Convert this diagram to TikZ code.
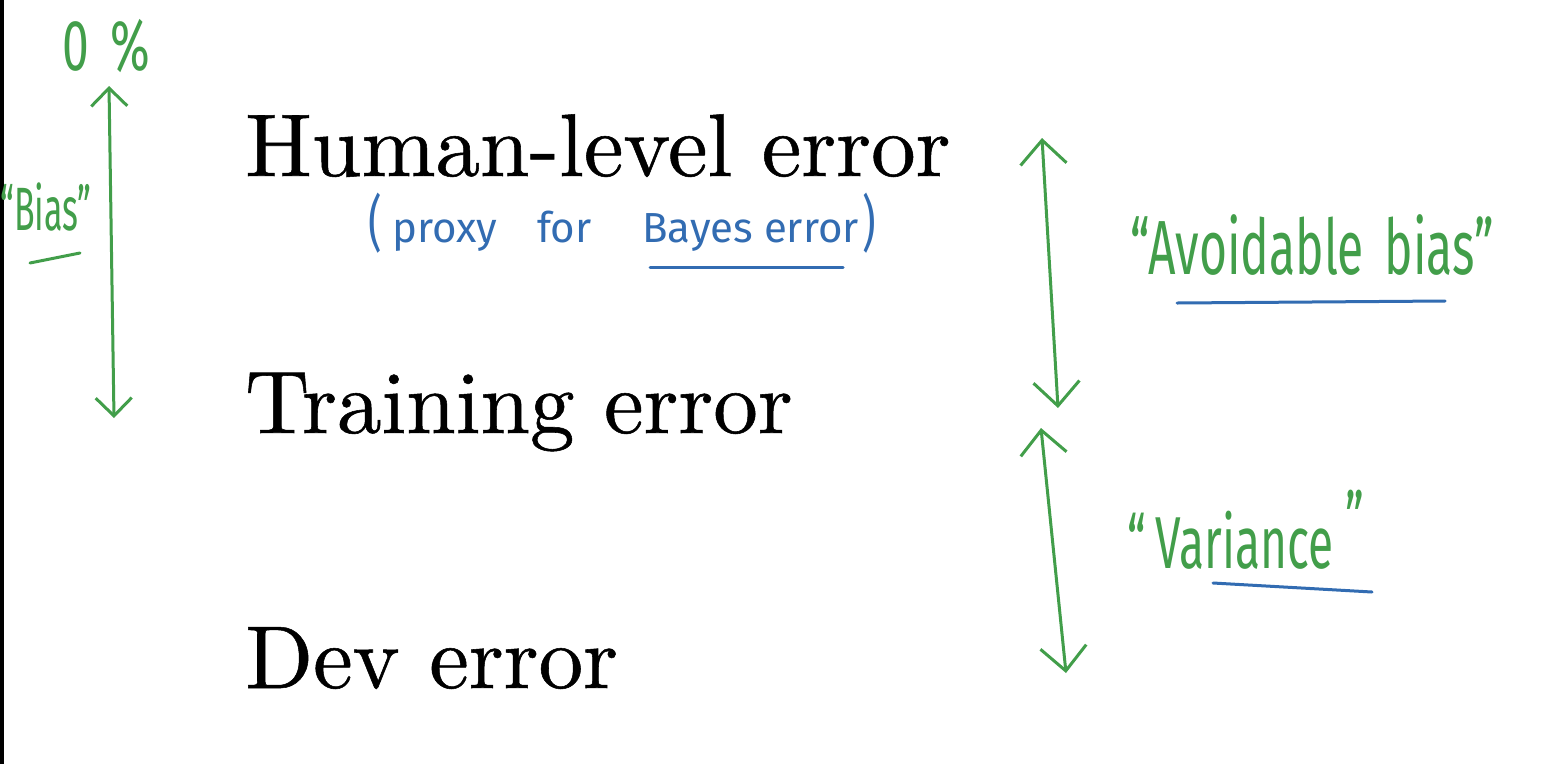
\documentclass[tikz,border=0pt]{standalone}
\usepackage{fontspec}
\usepackage{graphicx}
\usetikzlibrary{arrows.meta}
\newfontfamily\slidefont{lmroman10-regular}[Extension=.otf,FakeBold=0.6]
\newfontfamily\handfont{Fira Sans}
\definecolor{pengreen}{RGB}{66,158,74}
\definecolor{penblue}{RGB}{50,108,178}
\newcommand\tallink[2]{\scalebox{1}[#1]{#2}}

\begin{document}
\begin{tikzpicture}[x=1pt,y=-1pt,
  level/.style={anchor=base west, inner sep=0pt,
    font=\slidefont\fontsize{89}{96}\selectfont},
  hand/.style={inner sep=0pt, anchor=base west},
  ink/.style={line width=3pt, line cap=round, line join=round},
  span/.style={ink, draw=pengreen,
    {Straight Barb[length=24pt,width=46pt]}-{Straight Barb[length=24pt,width=46pt]}},
  smallspan/.style={ink, draw=pengreen,
    {Straight Barb[length=18pt,width=36pt]}-{Straight Barb[length=18pt,width=36pt]}},
  underline/.style={ink, line width=3pt}
]
% canvas and dark left edge
\useasboundingbox (0,0) rectangle (1550,764);
\fill[white] (0,0) rectangle (1550,764);
\fill[black] (0,0) rectangle (4,764);

% the three error levels
\node[level] (hle) at (245,176) {Human-level error};
\node[level] (tre) at (245,433) {Training error};
\node[level] (dev) at (245,688) {Dev error};

% blue note under human-level error
\node[hand, text=penblue, font=\handfont\fontsize{42}{42}\selectfont] (lp) at (368,244) {\tallink{1.45}{(}};
\node[hand, text=penblue, font=\handfont\fontsize{42}{42}\selectfont] (proxy) at (392,242) {proxy};
\node[hand, text=penblue, font=\handfont\fontsize{42}{42}\selectfont] (for) at (537,242) {for};
\node[hand, text=penblue, font=\handfont\fontsize{42}{42}\selectfont] (bayes) at (642,242) {Bayes error};
\node[hand, text=penblue, font=\handfont\fontsize{42}{42}\selectfont] (rp) at (862,244) {\tallink{1.45}{)}};
\draw[underline, penblue] (650,267) -- (843,267);

% left: zero percent and bias
\node[hand, text=pengreen, font=\handfont\fontsize{48}{48}\selectfont] (zero) at (62,70) {\tallink{1.5}{0\hspace{22pt}\%}};
\node[hand, text=pengreen, font=\handfont\fontsize{34}{34}\selectfont] (bias) at (0,230) {\tallink{1.8}{“Bias”}};
\draw[underline, pengreen] (30,263) -- (80,253);
\coordinate (biastop) at (109,86);
\coordinate (biasbot) at (114,418);
\draw[smallspan] (biasbot) -- (biastop);

% right: avoidable bias and variance
\coordinate (avtop) at (1042,138);
\coordinate (avbot) at (1058,408);
\draw[span] (avbot) -- (avtop);
\node[hand, text=pengreen, font=\handfont\fontsize{48}{48}\selectfont] (avoid) at (1130,274) {\tallink{1.6}{“Avoidable\, bias”}};
\draw[underline, penblue] (1177,303) -- (1445,301);

\coordinate (vartop) at (1041,428);
\coordinate (varbot) at (1066,673);
\draw[span] (varbot) -- (vartop);
\node[hand, text=pengreen, font=\handfont\fontsize{46}{46}\selectfont] (var) at (1127,568) {\tallink{1.6}{“\hspace{10pt}Variance\hspace{12pt}\raisebox{14pt}{”}}};
\draw[underline, penblue] (1213,583) -- (1372,592);
\end{tikzpicture}
\end{document}
